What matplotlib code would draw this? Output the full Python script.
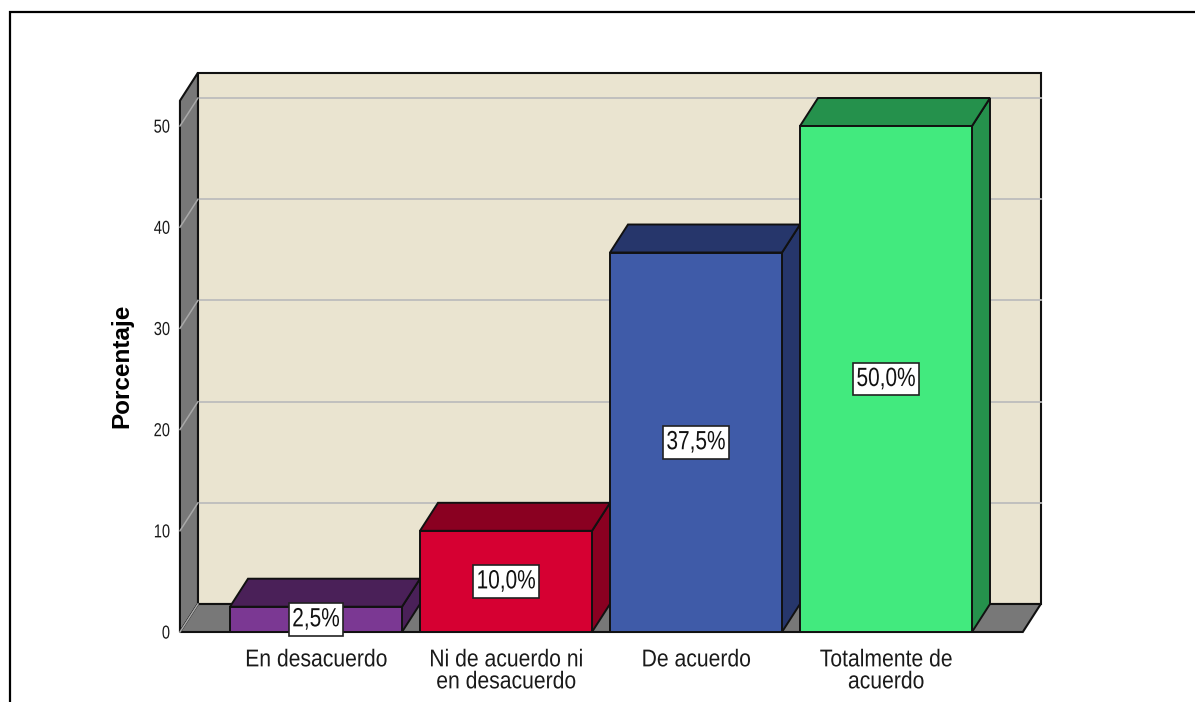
import matplotlib
matplotlib.use("Agg")
import matplotlib.pyplot as plt
from matplotlib.patches import Polygon, Rectangle
from matplotlib.lines import Line2D
from matplotlib.patheffects import AbstractPathEffect
from matplotlib.transforms import Affine2D

# Data
categories = ["En desacuerdo", "Ni de acuerdo ni\nen desacuerdo", "De acuerdo", "Totalmente de\nacuerdo"]
percentages = [2.5, 10.0, 37.5, 50.0]
value_labels = ["2,5%", "10,0%", "37,5%", "50,0%"]
y_ticks = [0, 10, 20, 30, 40, 50]
y_label = "Porcentaje"

front_colors = ["#7B3893", "#D60032", "#3F5BA8", "#42EA7E"]
shade_colors = ["#4A2058", "#8A0021", "#26366B", "#25914C"]

# Layout (pixel frame of the figure, axes span the whole canvas)
W, H = 1195, 702
X0_PX, X_SCALE = 316, 190.0      # pixel of category 0, pixels per category
Y0_PX, Y_SCALE = 632, 10.12      # pixel of 0 %, pixels per percent
DEPTH_X = 18 / X_SCALE           # depth offset in data units
DEPTH_Y = 28 / Y_SCALE
BAR_W = 172 / X_SCALE
FLOOR_L, FLOOR_R = -0.716, 3.72
Y_TOP = 52.5

wall_color = "#EAE4D0"
side_color = "#787878"
grid_back = "#BDBDBD"
grid_side = "#A8A8A8"
edge = "#111111"

font_reg = ["Liberation Sans", "DejaVu Sans"]


class Narrow(AbstractPathEffect):
    """Horizontally condense glyph (or box) paths around their centre or right edge."""

    def __init__(self, sx, anchor="center"):
        super().__init__()
        self.sx = sx
        self.anchor = anchor

    def draw_path(self, renderer, gc, tpath, affine, rgbFace=None):
        ext = tpath.get_extents()
        cx = ext.x1 if self.anchor == "right" else (ext.x0 + ext.x1) / 2
        t = Affine2D().translate(-cx, 0).scale(self.sx, 1).translate(cx, 0) + affine
        renderer.draw_path(gc, tpath, t, rgbFace)


fig = plt.figure(figsize=(W / 100, H / 100), dpi=100)
ax = fig.add_axes([0, 0, 1, 1])
ax.set_xlim(-X0_PX / X_SCALE, (W - X0_PX) / X_SCALE)
ax.set_ylim((Y0_PX - H) / Y_SCALE, Y0_PX / Y_SCALE)
ax.axis("off")

# Outer frame
fig.add_artist(Rectangle((10 / W, -0.1), 1.2, 0.1 + (H - 12) / H, transform=fig.transFigure,
                         fill=False, edgecolor="black", linewidth=1.6))

# Back wall
ax.add_patch(Polygon([(FLOOR_L + DEPTH_X, DEPTH_Y), (FLOOR_R + DEPTH_X, DEPTH_Y),
                      (FLOOR_R + DEPTH_X, Y_TOP + DEPTH_Y), (FLOOR_L + DEPTH_X, Y_TOP + DEPTH_Y)],
                     closed=True, facecolor=wall_color, edgecolor=edge, linewidth=1.5, zorder=1))
for t in y_ticks[1:]:
    ax.add_line(Line2D([FLOOR_L + DEPTH_X, FLOOR_R + DEPTH_X], [t + DEPTH_Y, t + DEPTH_Y],
                       color=grid_back, linewidth=1.3, zorder=2))

# Left wall
ax.add_patch(Polygon([(FLOOR_L, 0), (FLOOR_L + DEPTH_X, DEPTH_Y),
                      (FLOOR_L + DEPTH_X, Y_TOP + DEPTH_Y), (FLOOR_L, Y_TOP)],
                     closed=True, facecolor=side_color, edgecolor=edge, linewidth=1.5, zorder=3))
for t in y_ticks[1:]:
    ax.add_line(Line2D([FLOOR_L, FLOOR_L + DEPTH_X], [t, t + DEPTH_Y],
                       color=grid_side, linewidth=1.1, zorder=4))

# Floor
ax.add_patch(Polygon([(FLOOR_L, 0), (FLOOR_R, 0), (FLOOR_R + DEPTH_X, DEPTH_Y),
                      (FLOOR_L + DEPTH_X, DEPTH_Y)],
                     closed=True, facecolor=side_color, edgecolor=edge, linewidth=1.5, zorder=3))
ax.add_line(Line2D([FLOOR_L, FLOOR_L + DEPTH_X], [0, DEPTH_Y], color=grid_side, linewidth=1.1, zorder=4))

# Bars
for i, (v, fc, sc) in enumerate(zip(percentages, front_colors, shade_colors)):
    l, r = i - BAR_W / 2, i + BAR_W / 2
    ax.add_patch(Polygon([(r, 0), (r + DEPTH_X, DEPTH_Y), (r + DEPTH_X, v + DEPTH_Y), (r, v)],
                         closed=True, facecolor=sc, edgecolor=edge, linewidth=1.4, zorder=5))
    ax.add_patch(Polygon([(l, v), (r, v), (r + DEPTH_X, v + DEPTH_Y), (l + DEPTH_X, v + DEPTH_Y)],
                         closed=True, facecolor=sc, edgecolor=edge, linewidth=1.4, zorder=5))
    ax.add_patch(Rectangle((l, 0), BAR_W, v, facecolor=fc, edgecolor=edge, linewidth=1.4, zorder=6))
    txt = ax.text(i, v / 2, value_labels[i], ha="center", va="center", fontsize=19,
                  family=font_reg, color="#111111", zorder=8,
                  bbox=dict(boxstyle="square,pad=0.17", facecolor="white",
                            edgecolor="#222222", linewidth=1.2))
    txt.set_path_effects([Narrow(0.79)])
    txt.get_bbox_patch().set_path_effects([Narrow(0.79)])

# Category labels
for i, c in enumerate(categories):
    lab = ax.annotate(c, xy=(i, 0), xytext=(0, -12.5), textcoords="offset points",
                      ha="center", va="top", fontsize=17.5, family=font_reg,
                      color="#1a1a1a", linespacing=1.0)
    lab.set_path_effects([Narrow(0.87)])

# Y tick labels
for t in y_ticks:
    tl = ax.annotate(str(t), xy=(FLOOR_L, t), xytext=(-7, -1.5), textcoords="offset points",
                     ha="right", va="center", fontsize=13.5, family=font_reg, color="#1a1a1a")
    tl.set_path_effects([Narrow(0.78, anchor="right")])

# Y axis title
ax.text((122 - X0_PX) / X_SCALE, (Y0_PX - 366) / Y_SCALE, y_label, rotation=90,
        ha="center", va="center", fontsize=17.5, fontweight="bold", family=font_reg, color="black")

fig.savefig("out.png", dpi=100)
